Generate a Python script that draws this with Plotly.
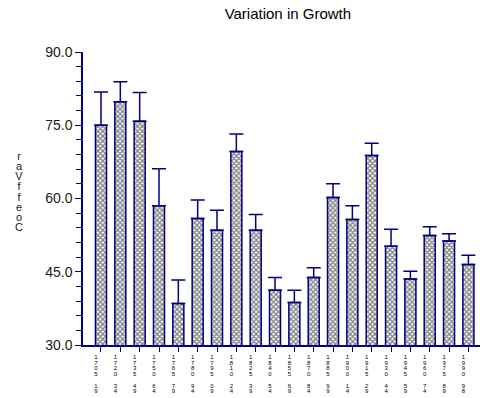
"""Coefficient of variation in growth per 15-year period, with upper error bars."""

import plotly.graph_objects as go

NAVY = "#000080"
TEXT = "#1a1a1a"
FONT = "Liberation Sans, Arial, sans-serif"

periods = [
    "1705-19", "1720-34", "1735-49", "1750-64", "1765-79",
    "1780-94", "1795-09", "1810-24", "1825-39", "1840-54",
    "1855-69", "1870-84", "1885-99", "1900-14", "1915-29",
    "1930-44", "1945-59", "1960-74", "1975-89", "1990-98",
]
coeff_var = [
    75.0, 79.8, 75.8, 58.5, 38.5, 55.9, 53.5, 69.6, 53.5, 41.2,
    38.7, 43.8, 60.2, 55.7, 68.8, 50.2, 43.5, 52.4, 51.3, 46.5,
]
upper_err = [
    6.8, 4.1, 5.9, 7.6, 4.8, 3.8, 4.1, 3.6, 3.2, 2.6,
    2.5, 2.0, 2.8, 2.8, 2.5, 3.5, 1.6, 1.8, 1.5, 1.9,
]
y_ticks = [30, 45, 60, 75, 90]
y_title = "CoeffVar"
title = "Variation in Growth"


def stacked(text, px):
    # one character per line; line pitch comes from the base font, glyph size from the span
    rows = [f"<span style='font-size:{px}px'>{' ' if c == '-' else c}</span>" for c in text]
    return "<br>".join(rows)


x = list(range(len(periods)))

fig = go.Figure(
    go.Bar(
        x=x,
        y=coeff_var,
        width=0.57,
        marker=dict(
            color="white",
            line=dict(color=NAVY, width=1.5),
            pattern=dict(shape="x", size=3.5, solidity=0.6, fgcolor="black", bgcolor="white"),
        ),
        error_y=dict(
            type="data", symmetric=False, array=upper_err,
            arrayminus=[0] * len(upper_err),
            color=NAVY, thickness=1.5, width=7,
        ),
        showlegend=False,
    )
)

fig.update_xaxes(
    range=[-0.93, 19.6], tickvals=x, ticktext=[stacked(p, 6) for p in periods],
    tickfont=dict(family=FONT, size=4.4, color="#000000"),
    ticklabelshift=-5, ticklabelstandoff=2,
    showline=True, linecolor=NAVY, linewidth=1.5,
    ticks="outside", ticklen=5, tickcolor=NAVY, showgrid=False, zeroline=False,
)
fig.update_yaxes(
    range=[30, 90], tickvals=y_ticks, tickformat=".1f",
    showline=True, linecolor=NAVY, linewidth=1.5,
    ticks="outside", ticklen=6, tickcolor=NAVY,
    minor=dict(dtick=3, ticks="outside", ticklen=5, tickcolor=NAVY, showgrid=False),
    tickfont=dict(family=FONT, size=14, color=TEXT),
    showgrid=False, zeroline=False,
)
fig.update_layout(
    width=483, height=398,
    title=dict(
        text=title, x=0.516, xref="paper", xanchor="center",
        y=0.966, yanchor="middle",
        font=dict(family=FONT, size=15, color="black"),
    ),
    margin=dict(l=83, r=3, t=52, b=53),
    plot_bgcolor="white", paper_bgcolor="white",
    annotations=[dict(
        text=stacked(y_title[::-1], 11), x=0, xref="paper", xshift=-70,
        y=0.5, yref="paper", yanchor="middle", yshift=7, showarrow=False,
        font=dict(family=FONT, size=7.8, color=TEXT),
    )],
)

fig.write_html(
    "out.html",
    config={"displayModeBar": False},
    post_script="document.body.style.margin='0px';",
)
